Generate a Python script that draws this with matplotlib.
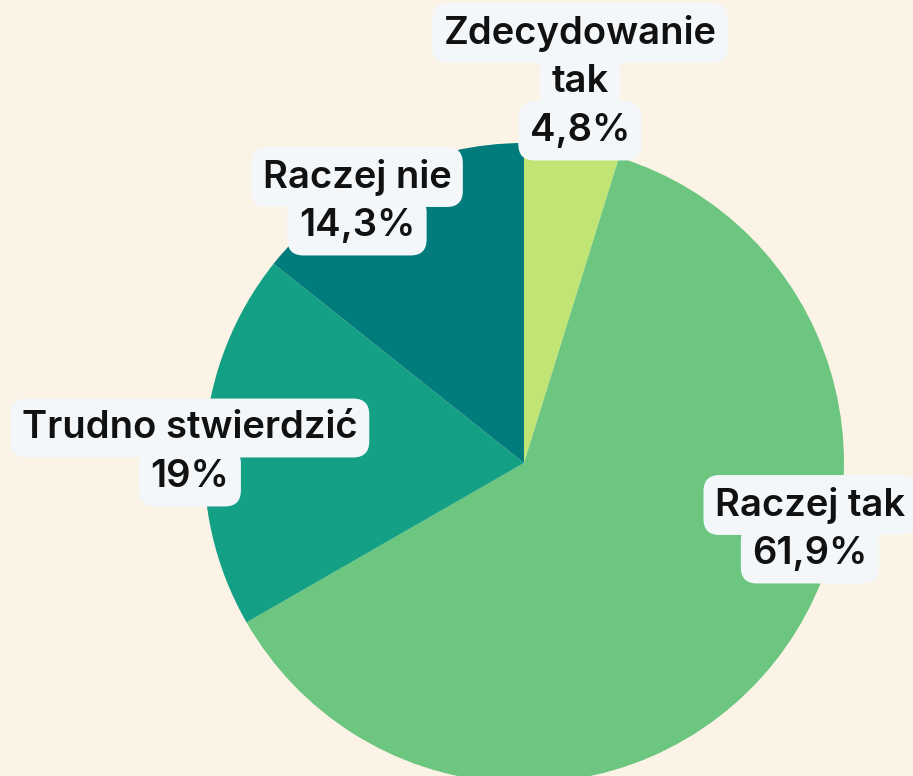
import matplotlib
matplotlib.use("Agg")
import matplotlib.pyplot as plt

# answer categories and shares (%), clockwise from 12 o'clock
categories = ["Zdecydowanie\ntak", "Raczej tak", "Trudno stwierdzić", "Raczej nie"]
shares = [4.8, 61.9, 19.0, 14.3]
share_labels = ["4,8%", "61,9%", "19%", "14,3%"]
colors = ["#c0e574", "#6cc680", "#14a085", "#017b7b"]

# label anchors (pixels from top-left) for the first line of each label
label_pos = [(580, 33), (810, 505), (190, 428), (357, 177)]

W, H = 913, 776
fig = plt.figure(figsize=(W / 100, H / 100), dpi=100)
fig.patch.set_facecolor("#fcf3e7")
ax = fig.add_axes([0, 0, 1, 1])
ax.set_facecolor("#fcf3e7")

ax.pie(shares, colors=colors, startangle=90, counterclock=False,
       center=(524, H - 463), radius=320,
       wedgeprops=dict(linewidth=0))
ax.set_xlim(0, W)
ax.set_ylim(0, H)
ax.set_aspect("equal")
ax.axis("off")

line_gap = 49
box = dict(boxstyle="round,pad=0.3,rounding_size=0.42", fc="#f3f7fa", ec="none")
for cat, lab, (x, y) in zip(categories, share_labels, label_pos):
    lines = cat.split("\n") + [lab]
    for i, line in enumerate(lines):
        ax.text(x, H - (y + i * line_gap), line, ha="center", va="center",
                fontsize=27.5, fontweight="semibold", family=["Inter", "DejaVu Sans"],
                color="#111111", bbox=box)

fig.savefig("out.png", dpi=100, facecolor=fig.get_facecolor())
